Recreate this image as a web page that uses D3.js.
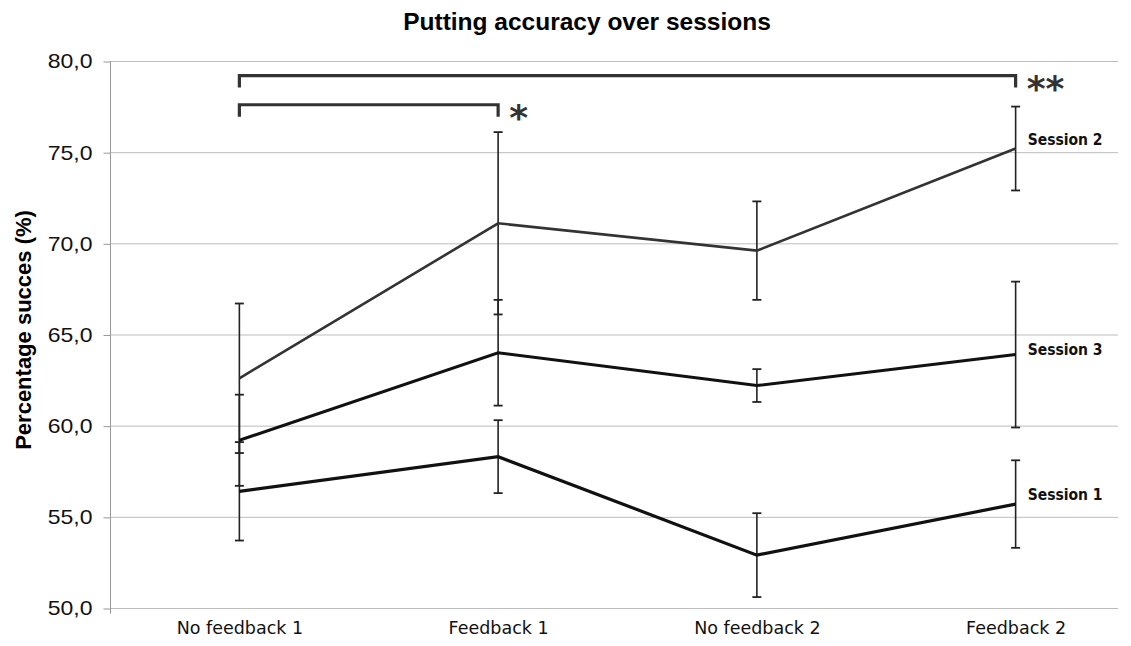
<!DOCTYPE html>
<html>
<head>
<meta charset="utf-8">
<script src="https://cdn.jsdelivr.net/npm/d3@7"></script>
<style>
  body { margin: 0; background: #fff; }
  svg { display: block; }
</style>
</head>
<body>
<div id="chart"></div>
<script>
var w = 1131;
var h = 646;

//chart data
var conditions = ["No feedback 1", "Feedback 1", "No feedback 2", "Feedback 2"];
var session1 = [56.4, 58.3, 52.9, 55.7];
var session1Err = [2.7, 2.0, 2.3, 2.4];
var session2 = [62.6, 71.1, 69.6, 75.2];
var session2Err = [4.1, 5.0, 2.7, 2.3];
var session3 = [59.2, 64.0, 62.2, 63.9];
var session3Err = [2.5, 2.9, 0.9, 4.0];
var yTicks = [50, 55, 60, 65, 70, 75, 80];

var sessions = [
  { name: "Session 1", values: session1, err: session1Err, color: "#111", width: 3.2, dy: -4 },
  { name: "Session 2", values: session2, err: session2Err, color: "#333", width: 2.6, dy: -4 },
  { name: "Session 3", values: session3, err: session3Err, color: "#111", width: 3, dy: 0 }
];

//significance brackets: from/to condition index, stars
var brackets = [
  { from: 0, to: 3, level: 79.2, label: "**" },
  { from: 0, to: 1, level: 77.6, label: "*" }
];

var plotLeft = 110, plotRight = 1118, plotTop = 61, plotBottom = 608;
var tickStretch = 1.15; //tick labels in the picture are drawn a bit wide

var svg = d3.select("#chart")
    .append("svg")
    .attr("width", w)
    .attr("height", h);

var x = d3.scalePoint()
    .domain(conditions)
    .range([plotLeft, 1145])
    .padding(0.5);

var y = d3.scaleLinear()
    .domain([50, 80])
    .range([plotBottom, plotTop]);

//gridlines
svg.append("g").selectAll("line")
    .data(yTicks)
    .enter()
    .append("line")
    .attr("x1", plotLeft)
    .attr("x2", plotRight)
    .attr("y1", function (d) { return y(d) + 0.5; })
    .attr("y2", function (d) { return y(d) + 0.5; })
    .style("stroke", "#bdbdbd")
    .style("stroke-width", 1);

//y axis
var yAxis = d3.axisLeft(y)
    .tickValues(yTicks)
    .tickSize(7)
    .tickFormat(function (d) { return d3.format(".1f")(d).replace(".", ","); });

var gy = svg.append("g")
    .attr("transform", "translate(" + (plotLeft + 0.5) + ",0.5)")
    .call(yAxis);
gy.select(".domain").attr("d", "M0," + plotTop + "V" + (plotBottom + 5)).style("stroke", "#999");
gy.selectAll(".tick line").style("stroke", "#999");
gy.selectAll("text")
    .attr("x", -18 / tickStretch)
    .attr("transform", "scale(" + tickStretch + ",1)")
    .style("font-family", "Liberation Sans, Arial, sans-serif")
    .style("font-size", "20px")
    .style("fill", "#111");

//x axis labels
var xAxis = d3.axisBottom(x).tickSize(0).tickPadding(14);
var gx = svg.append("g")
    .attr("transform", "translate(0," + plotBottom + ")")
    .call(xAxis);
gx.select(".domain").remove();
gx.selectAll("text")
    .style("font-family", "DejaVu Sans, sans-serif")
    .style("font-size", "17.5px")
    .style("fill", "#111");

//title
svg.append("text")
    .attr("x", 587)
    .attr("y", 30)
    .attr("text-anchor", "middle")
    .style("font-family", "Liberation Sans, Arial, sans-serif")
    .style("font-weight", "bold")
    .style("font-size", "24.5px")
    .text("Putting accuracy over sessions");

//y axis title
svg.append("text")
    .attr("transform", "translate(31,330) rotate(-90)")
    .attr("text-anchor", "middle")
    .style("font-family", "Liberation Sans, Arial, sans-serif")
    .style("font-weight", "bold")
    .style("font-size", "22px")
    .text("Percentage succes (%)");

//error bars
var capHalf = 4.5;
sessions.forEach(function (s) {
    var g = svg.append("g").attr("class", "errbars");
    var pts = s.values.map(function (v, i) {
        return { c: conditions[i], v: v, e: s.err[i] };
    });
    g.selectAll("line.stem")
        .data(pts)
        .enter()
        .append("line")
        .attr("class", "stem")
        .attr("x1", function (d) { return x(d.c); })
        .attr("x2", function (d) { return x(d.c); })
        .attr("y1", function (d) { return y(d.v + d.e); })
        .attr("y2", function (d) { return y(d.v - d.e); })
        .style("stroke", "#222")
        .style("stroke-width", 1.6);
    [1, -1].forEach(function (sign) {
        g.selectAll("line.cap" + sign)
            .data(pts)
            .enter()
            .append("line")
            .attr("x1", function (d) { return x(d.c) - capHalf; })
            .attr("x2", function (d) { return x(d.c) + capHalf; })
            .attr("y1", function (d) { return y(d.v + sign * d.e); })
            .attr("y2", function (d) { return y(d.v + sign * d.e); })
            .style("stroke", "#222")
            .style("stroke-width", 1.8);
    });
});

//lines
var line = d3.line()
    .x(function (d, i) { return x(conditions[i]); })
    .y(function (d) { return y(d); });

svg.selectAll("path.series")
    .data(sessions)
    .enter()
    .append("path")
    .attr("class", "series")
    .attr("d", function (d) { return line(d.values); })
    .style("fill", "none")
    .style("stroke", function (d) { return d.color; })
    .style("stroke-width", function (d) { return d.width; })
    .style("stroke-linejoin", "miter");

//session labels
svg.selectAll("text.session")
    .data(sessions)
    .enter()
    .append("text")
    .attr("class", "session")
    .attr("x", x(conditions[3]) + 12)
    .attr("y", function (d) { return y(d.values[3]) + d.dy; })
    .style("font-family", "DejaVu Sans Condensed, DejaVu Sans, sans-serif")
    .style("font-stretch", "condensed")
    .style("font-weight", "bold")
    .style("font-size", "15.5px")
    .style("fill", "#111")
    .text(function (d) { return d.name; });

//significance brackets
brackets.forEach(function (b) {
    var x1 = x(conditions[b.from]), x2 = x(conditions[b.to]);
    var by = y(b.level);
    svg.append("path")
        .attr("d", "M" + x1 + "," + (by + 12) + "V" + by + "H" + x2 + "V" + (by + 12))
        .style("fill", "none")
        .style("stroke", "#333")
        .style("stroke-width", 3.2);
    svg.append("text")
        .attr("x", x2 + 11)
        .attr("y", by + 25)
        .style("font-family", "DejaVu Sans, Verdana, sans-serif")
        .style("font-weight", "bold")
        .style("font-size", "36px")
        .style("fill", "#333")
        .text(b.label);
});
</script>
</body>
</html>
